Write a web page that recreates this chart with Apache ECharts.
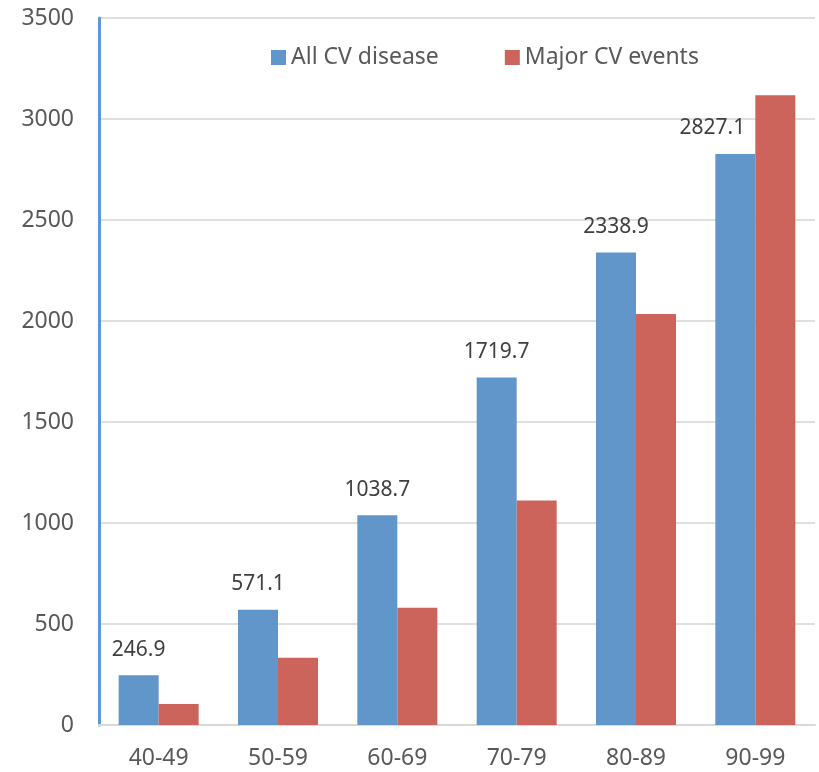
<!DOCTYPE html>
<html>
<head>
<meta charset="utf-8">
<script src="https://cdn.jsdelivr.net/npm/echarts@6/dist/echarts.min.js"></script>
<style>
  html, body { margin: 0; padding: 0; background: #fff; }
  #chart { width: 819px; height: 772px; }
</style>
</head>
<body>
<div id="chart"></div>
<script>
// age groups and rates
var ageGroups = ['40-49', '50-59', '60-69', '70-79', '80-89', '90-99'];
var allCvDisease = [246.9, 571.1, 1038.7, 1719.7, 2338.9, 2827.1];
var majorCvEvents = [104, 333, 580, 1112, 2035, 3117];
var seriesNames = ['All CV disease', 'Major CV events'];

var font = 'Noto Sans';
var myChart = echarts.init(document.getElementById('chart'));

var blueData = allCvDisease.map(function(v, i) {
    var item = { value: v };
    // last label sits a bit to the left in the original
    if (i === allCvDisease.length - 1) item.label = { offset: [-23, 0] };
    return item;
});

var option = {
    animation: false,
    textStyle: { fontFamily: font },
    grid: { left: 99, right: 4, top: 18, bottom: 47, containLabel: false },
    legend: {
        data: seriesNames,
        left: 266,
        top: 41,
        itemWidth: 15,
        itemHeight: 15,
        itemGap: 66,
        icon: 'rect',
        textStyle: { fontSize: 23, color: '#595959', fontFamily: font }
    },
    xAxis: {
        type: 'category',
        data: ageGroups,
        axisLine: { lineStyle: { color: '#d9d9d9', width: 2 } },
        axisTick: { show: false },
        axisLabel: { fontSize: 23, color: '#595959', margin: 22, fontFamily: font }
    },
    yAxis: {
        type: 'value',
        min: 0,
        max: 3500,
        interval: 500,
        axisLine: { show: true, lineStyle: { color: '#5b9bd5', width: 3 } },
        axisTick: { show: false },
        axisLabel: {
            fontSize: 23, color: '#595959', margin: 25, fontFamily: font,
            formatter: function(v) { return String(v); }
        },
        splitLine: { lineStyle: { color: '#e0e0e0', width: 2 } }
    },
    series: [{
        name: seriesNames[0],
        type: 'bar',
        data: blueData,
        barWidth: 40,
        barGap: '0%',
        itemStyle: { color: '#6096ca' },
        label: {
            show: true,
            position: 'top',
            distance: 15,
            fontSize: 21,
            color: '#404040',
            fontFamily: font
        }
    }, {
        name: seriesNames[1],
        type: 'bar',
        data: majorCvEvents,
        barWidth: 40,
        barGap: '0%',
        itemStyle: { color: '#cc645c' }
    }]
};

myChart.setOption(option);
</script>
</body>
</html>
